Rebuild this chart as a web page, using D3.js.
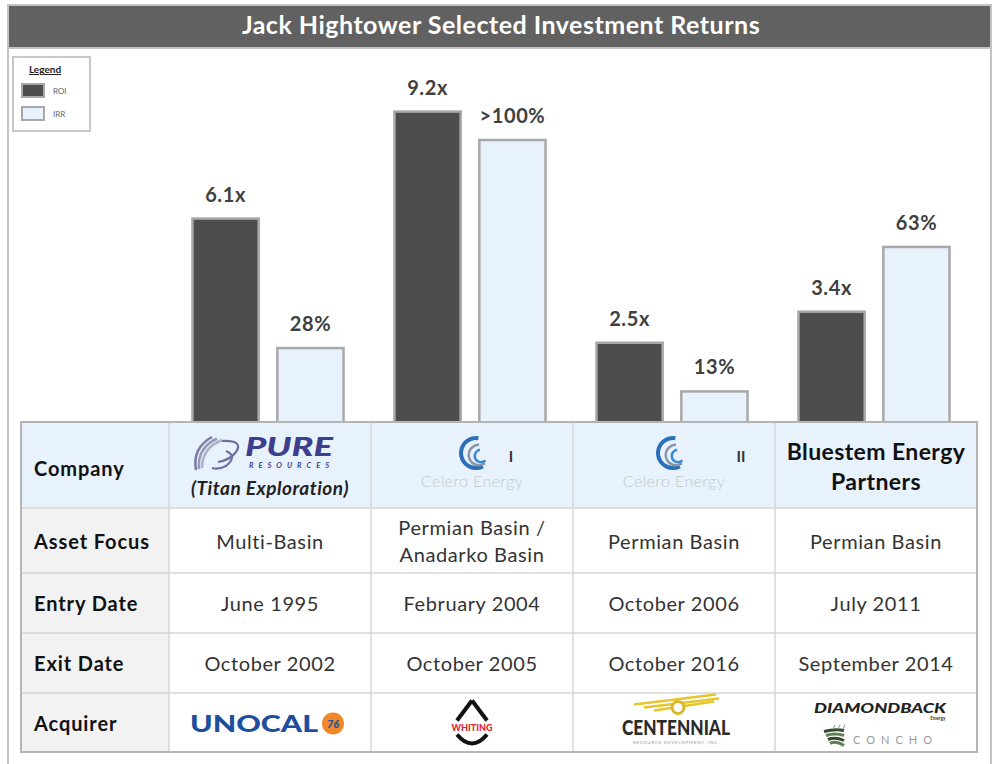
<!DOCTYPE html>
<html>
<head>
<meta charset="utf-8">
<script src="https://cdn.jsdelivr.net/npm/d3@7"></script>
<style>
  body { margin: 0; background: #fff; }
  svg { display: block; font-family: Lato, "Open Sans", sans-serif; }
</style>
</head>
<body>
<svg id="chart" width="994" height="764"></svg>
<script>
const title = "Jack Hightower Selected Investment Returns";
const companies = ["Pure Resources", "Celero Energy I", "Celero Energy II", "Bluestem Energy Partners"];
const roi = [6.1, 9.2, 2.5, 3.4];
const roiLabels = ["6.1x", "9.2x", "2.5x", "3.4x"];
const irr = [28, 100, 13, 63];           // ">100%" drawn at 100
const irrLabels = ["28%", ">100%", "13%", "63%"];
const legendItems = ["ROI", "IRR"];
const rowLabels = ["Company", "Asset Focus", "Entry Date", "Exit Date", "Acquirer"];
const assetFocus = [["Multi-Basin"], ["Permian Basin /", "Anadarko Basin"], ["Permian Basin"], ["Permian Basin"]];
const entryDates = ["June 1995", "February 2004", "October 2006", "July 2011"];
const exitDates = ["October 2002", "October 2005", "October 2016", "September 2014"];

const W = 994, H = 764;
const darkFill = "#4d4d4d", lightFill = "#e8f2fc", barStroke = "#a8a8a8";

const svg = d3.select("#chart");

// frame + title bar
svg.append("rect")
    .attr("x", 8).attr("y", 5).attr("width", 983).attr("height", H + 10)
    .attr("fill", "#fff").attr("stroke", "#c4c4c4").attr("stroke-width", 2);
svg.append("rect")
    .attr("x", 8).attr("y", 5).attr("width", 983).attr("height", 43)
    .attr("fill", "#616161").attr("stroke", "#c4c4c4").attr("stroke-width", 2);
svg.append("text")
    .attr("x", 501).attr("y", 34)
    .attr("text-anchor", "middle")
    .attr("fill", "#fff").attr("font-size", 25).attr("font-weight", 700)
    .attr("letter-spacing", 0.5)
    .text(title);

// scales
const tableLeft = 21, labelColRight = 169, tableRight = 977;
const x = d3.scaleBand().domain(companies).range([labelColRight, tableRight]);
const xInner = d3.scaleBand().domain(legendItems).range([-2, x.bandwidth() - 2])
    .paddingInner(0.22).paddingOuter(0.3);
const yRoi = d3.scaleLinear().domain([0, 10]).range([429, 84]);
const yIrr = d3.scaleLinear().domain([0, 100]).range([429, 140]);

// bars
const groups = svg.append("g").selectAll("g")
    .data(companies)
    .join("g")
    .attr("transform", d => `translate(${x(d)},0)`);

groups.append("rect")
    .attr("x", xInner("ROI"))
    .attr("y", (d, i) => yRoi(roi[i]))
    .attr("width", xInner.bandwidth())
    .attr("height", (d, i) => yRoi(0) - yRoi(roi[i]))
    .attr("fill", darkFill).attr("stroke", barStroke).attr("stroke-width", 2.5);

groups.append("rect")
    .attr("x", xInner("IRR"))
    .attr("y", (d, i) => yIrr(irr[i]))
    .attr("width", xInner.bandwidth())
    .attr("height", (d, i) => yIrr(0) - yIrr(irr[i]))
    .attr("fill", lightFill).attr("stroke", barStroke).attr("stroke-width", 2.5);

groups.append("text")
    .attr("x", xInner("ROI") + xInner.bandwidth() / 2)
    .attr("y", (d, i) => yRoi(roi[i]) - 17)
    .attr("text-anchor", "middle").attr("font-size", 20).attr("font-weight", 700)
    .attr("letter-spacing", 0.6).attr("fill", "#404040")
    .text((d, i) => roiLabels[i]);

groups.append("text")
    .attr("x", xInner("IRR") + xInner.bandwidth() / 2)
    .attr("y", (d, i) => yIrr(irr[i]) - 17)
    .attr("text-anchor", "middle").attr("font-size", 20).attr("font-weight", 700)
    .attr("letter-spacing", 0.6).attr("fill", "#404040")
    .text((d, i) => irrLabels[i]);

// legend
const legend = svg.append("g");
legend.append("rect")
    .attr("x", 13).attr("y", 57).attr("width", 77).attr("height", 74)
    .attr("fill", "#fff").attr("stroke", "#c8c8c8").attr("stroke-width", 2);
legend.append("text")
    .attr("x", 45).attr("y", 73).attr("text-anchor", "middle")
    .attr("font-size", 10).attr("font-weight", 700).attr("fill", "#222")
    .attr("text-decoration", "underline")
    .text("Legend");
legendItems.forEach((k, i) => {
    legend.append("rect")
        .attr("x", 22).attr("y", 84 + i * 23).attr("width", 22).attr("height", 13)
        .attr("fill", i === 0 ? darkFill : lightFill)
        .attr("stroke", barStroke).attr("stroke-width", 2);
    legend.append("text")
        .attr("x", 53).attr("y", 94 + i * 23)
        .attr("font-size", 8).attr("fill", "#666")
        .text(k);
});

// table
const rowEdges = [422, 508, 573, 633, 693, 752];
const table = svg.append("g");
rowLabels.forEach((lab, r) => {
    table.append("rect")
        .attr("x", tableLeft).attr("y", rowEdges[r])
        .attr("width", labelColRight - tableLeft).attr("height", rowEdges[r + 1] - rowEdges[r])
        .attr("fill", r === 0 ? lightFill : "#f2f2f2");
    companies.forEach(c => {
        table.append("rect")
            .attr("x", x(c)).attr("y", rowEdges[r])
            .attr("width", x.bandwidth()).attr("height", rowEdges[r + 1] - rowEdges[r])
            .attr("fill", r === 0 ? lightFill : "#fff");
    });
    table.append("text")
        .attr("x", 34).attr("y", (rowEdges[r] + rowEdges[r + 1]) / 2 + (r === 0 ? 11 : 8))
        .attr("font-size", 20).attr("font-weight", 700).attr("fill", "#111")
        .attr("letter-spacing", 0.9)
        .text(lab);
});
// grid lines
rowEdges.slice(1, -1).forEach(y => {
    table.append("line").attr("x1", tableLeft).attr("x2", tableRight)
        .attr("y1", y).attr("y2", y).attr("stroke", "#d6d6d6").attr("stroke-width", 1.5);
});
companies.forEach(c => {
    table.append("line").attr("x1", x(c)).attr("x2", x(c))
        .attr("y1", rowEdges[0]).attr("y2", rowEdges[5]).attr("stroke", "#d6d6d6").attr("stroke-width", 1.5);
});
table.append("rect")
    .attr("x", tableLeft).attr("y", rowEdges[0])
    .attr("width", tableRight - tableLeft).attr("height", rowEdges[5] - rowEdges[0])
    .attr("fill", "none").attr("stroke", "#b4b4b4").attr("stroke-width", 2);

// text rows
function cellText(values, r) {
    companies.forEach((c, i) => {
        const lines = [].concat(values[i]);
        const cy = (rowEdges[r] + rowEdges[r + 1]) / 2;
        lines.forEach((t, j) => {
            table.append("text")
                .attr("x", x(c) + x.bandwidth() / 2)
                .attr("y", cy + 8 + (j - (lines.length - 1) / 2) * 27)
                .attr("text-anchor", "middle").attr("font-size", 20).attr("fill", "#333")
                .attr("letter-spacing", 0.6)
                .text(t);
        });
    });
}
cellText(assetFocus, 1);
cellText(entryDates, 2);
cellText(exitDates, 3);

// company logos (approximations)
const cx = c => x(c) + x.bandwidth() / 2;

// Pure Resources
const pure = table.append("g");
[[0, "#7a7aa8"], [5, "#9a9ab8"], [10, "#b0b0c8"]].forEach(([o, col]) => {
    pure.append("path")
        .attr("d", `M${212 + o},${437 + o * 0.3} Q${192 + o},${448} ${196 + o * 0.6},${470 - o * 0.2}`)
        .attr("fill", "none").attr("stroke", col).attr("stroke-width", 2.5);
});
pure.append("path")
    .attr("d", "M222,441 Q244,440 236,452 Q230,460 218,462 M226,451 Q238,456 226,466 Q218,470 212,468")
    .attr("fill", "none").attr("stroke", "#6f6fa0").attr("stroke-width", 2.2);
pure.append("text")
    .attr("x", 245).attr("y", 456)
    .attr("font-size", 26).attr("font-weight", 900).attr("font-style", "italic")
    .attr("fill", "#3d3f8e").attr("textLength", 88).attr("lengthAdjust", "spacingAndGlyphs")
    .text("PURE");
pure.append("text")
    .attr("x", 249).attr("y", 468)
    .attr("font-size", 7.5).attr("font-weight", 700).attr("font-style", "italic")
    .attr("fill", "#3d3f8e").attr("textLength", 80).attr("lengthAdjust", "spacing")
    .text("RESOURCES");
pure.append("text")
    .attr("x", cx(companies[0])).attr("y", 495).attr("text-anchor", "middle")
    .attr("font-size", 19).attr("font-weight", 700).attr("font-style", "italic").attr("fill", "#222")
    .attr("letter-spacing", 0.5)
    .text("(Titan Exploration)");

// Celero swirls
function celero(c, ox, suffix, sx) {
    const g = table.append("g").attr("transform", `translate(${ox},453)`);
    const arc = d3.arc();
    g.append("path").attr("d", arc({ innerRadius: 13, outerRadius: 17, startAngle: 0.85 * Math.PI, endAngle: 2.05 * Math.PI }))
        .attr("fill", "#2a6fb8");
    g.append("path").attr("transform", "translate(3,2)")
        .attr("d", arc({ innerRadius: 9, outerRadius: 11.5, startAngle: 0.8 * Math.PI, endAngle: 2.0 * Math.PI }))
        .attr("fill", "#8797a6");
    g.append("path").attr("transform", "translate(5,3)")
        .attr("d", arc({ innerRadius: 5, outerRadius: 7.5, startAngle: 0.75 * Math.PI, endAngle: 1.95 * Math.PI }))
        .attr("fill", "#3b8bd3");
    table.append("text")
        .attr("x", sx).attr("y", 462).attr("text-anchor", "middle")
        .attr("font-size", 15).attr("font-weight", 700).attr("fill", "#333")
        .text(suffix);
    table.append("text")
        .attr("x", cx(c)).attr("y", 487).attr("text-anchor", "middle")
        .attr("font-size", 16).attr("font-weight", 300).attr("fill", "#c4c8cc")
        .attr("letter-spacing", 0.4)
        .text("Celero Energy");
}
celero(companies[1], 476, "I", 511);
celero(companies[2], 673, "II", 741);

// Bluestem
table.append("text")
    .attr("x", cx(companies[3])).attr("y", 460).attr("text-anchor", "middle")
    .attr("font-size", 23).attr("font-weight", 700).attr("fill", "#111")
    .attr("letter-spacing", 0.4)
    .text("Bluestem Energy");
table.append("text")
    .attr("x", cx(companies[3])).attr("y", 490).attr("text-anchor", "middle")
    .attr("font-size", 23).attr("font-weight", 700).attr("fill", "#111")
    .attr("letter-spacing", 0.4)
    .text("Partners");

// Acquirer logos
const acqY = (rowEdges[4] + rowEdges[5]) / 2;
table.append("text")
    .attr("x", 190).attr("y", acqY + 9)
    .attr("font-size", 23).attr("font-weight", 900).attr("fill", "#1d4f9e")
    .attr("textLength", 128).attr("lengthAdjust", "spacingAndGlyphs")
    .text("UNOCAL");
table.append("circle").attr("cx", 333).attr("cy", acqY + 1).attr("r", 11).attr("fill", "#f0882a");
table.append("text")
    .attr("x", 333).attr("y", acqY + 5).attr("text-anchor", "middle")
    .attr("font-size", 11).attr("font-weight", 900).attr("font-style", "italic").attr("fill", "#1d4f9e")
    .text("76");

// Whiting
const wx = cx(companies[1]);
table.append("path")
    .attr("d", `M${wx},${acqY - 22} L${wx - 15},${acqY - 2} M${wx},${acqY - 22} L${wx + 15},${acqY - 2}`)
    .attr("stroke", "#111").attr("stroke-width", 4).attr("fill", "none");
table.append("path")
    .attr("d", `M${wx - 15},${acqY + 12} Q${wx},${acqY + 30} ${wx + 15},${acqY + 12}`)
    .attr("stroke", "#111").attr("stroke-width", 4).attr("fill", "none");
table.append("text")
    .attr("x", wx).attr("y", acqY + 8).attr("text-anchor", "middle")
    .attr("font-size", 9).attr("font-weight", 900).attr("fill", "#e0262b")
    .text("WHITING");

// Centennial
const ccx = cx(companies[2]);
[[-40, 7, 42, -3], [-30, 10, 45, 1], [-20, 13, 40, 4]].forEach(([x1, y1, x2, y2]) => {
    table.append("line")
        .attr("x1", ccx + x1).attr("y1", acqY + y1 - 25).attr("x2", ccx + x2).attr("y2", acqY + y2 - 25)
        .attr("stroke", "#e6c62c").attr("stroke-width", 2.5);
});
table.append("circle").attr("cx", ccx + 4).attr("cy", acqY - 15).attr("r", 6)
    .attr("fill", "#fff").attr("stroke", "#d8b82a").attr("stroke-width", 3);
table.append("text")
    .attr("x", ccx + 2).attr("y", acqY + 12).attr("text-anchor", "middle")
    .attr("font-size", 21).attr("font-weight", 900).attr("fill", "#2a2a2a")
    .attr("textLength", 108).attr("lengthAdjust", "spacingAndGlyphs")
    .text("CENTENNIAL");
table.append("text")
    .attr("x", ccx + 2).attr("y", acqY + 21).attr("text-anchor", "middle")
    .attr("font-size", 4.5).attr("fill", "#999")
    .attr("textLength", 86)
    .text("RESOURCE DEVELOPMENT, INC.");

// Diamondback + Concho
const dcx = cx(companies[3]);
table.append("text")
    .attr("x", dcx + 4).attr("y", acqY - 10).attr("text-anchor", "middle")
    .attr("font-size", 13).attr("font-weight", 900).attr("font-style", "italic").attr("fill", "#222")
    .attr("textLength", 132).attr("lengthAdjust", "spacingAndGlyphs")
    .text("DIAMONDBACK");
table.append("text")
    .attr("x", dcx + 62).attr("y", acqY - 3).attr("text-anchor", "middle")
    .attr("font-size", 5).attr("font-weight", 700).attr("fill", "#333")
    .text("Energy");
// Concho fan icon: stacked stripes widening to the left
const fx = dcx - 52, fy = acqY + 9;
[0, 4, 8, 12].forEach((dy, i) => {
    table.append("path")
        .attr("d", `M${fx + i * 2},${fy + dy} Q${fx + 11},${fy + dy - 3} ${fx + 20},${fy + dy - 1 + i}`)
        .attr("fill", "none").attr("stroke", i % 2 ? "#5f7f55" : "#2f4a2c").attr("stroke-width", 3);
});
[0, 5, 10].forEach(d => {
    table.append("line")
        .attr("x1", fx + 9 + d).attr("y1", fy - 2).attr("x2", fx + 11 + d).attr("y2", fy - 7)
        .attr("stroke", "#8a9a80").attr("stroke-width", 1);
});
table.append("text")
    .attr("x", dcx - 23).attr("y", acqY + 21)
    .attr("font-size", 11).attr("fill", "#9a9a9a").attr("letter-spacing", 6)
    .text("CONCHO");
</script>
</body>
</html>
